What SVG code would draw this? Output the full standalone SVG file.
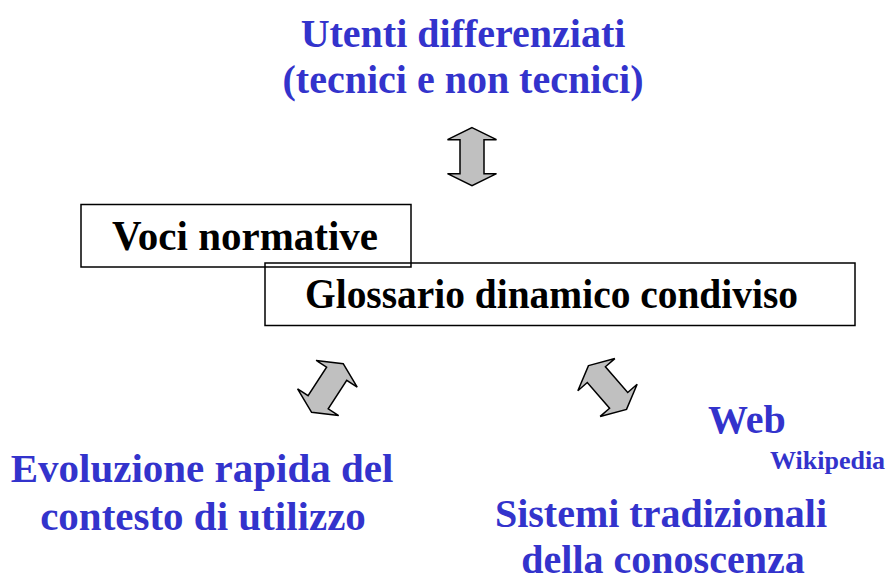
<svg xmlns="http://www.w3.org/2000/svg" width="891" height="581" viewBox="0 0 891 581">
<style>
.t{font-family:"Liberation Serif","Times New Roman",serif;font-weight:bold;font-size:40px}
.blue{fill:#3333CC}
.blk{fill:#000;font-size:42px}
.box{fill:none;stroke:#000;stroke-width:1.5}
.arr{fill:#C0C0C0;stroke:#000;stroke-width:1.5;stroke-linejoin:miter}
</style>
<defs>
<polygon id="dblarrow" points="0,-29 24.5,-17 12,-17 12,17 24.5,17 0,29 -24.5,17 -12,17 -12,-17 -24.5,-17"/>
</defs>
<rect width="891" height="581" fill="#fff"/>
<g id="connectors">
<use href="#dblarrow" class="arr" transform="translate(472,156.7)"/>
<use href="#dblarrow" class="arr" transform="translate(327.4,388) rotate(33)"/>
<use href="#dblarrow" class="arr" transform="translate(607.5,387.5) rotate(-41)"/>
</g>
<g id="utenti">
<text class="t blue" x="463" y="47" text-anchor="middle">Utenti differenziati</text>
<text class="t blue" x="463" y="93" text-anchor="middle">(tecnici e non tecnici)</text>
</g>
<g id="voci">
<rect class="box" x="81" y="204.5" width="330" height="62.5"/>
<text class="t blk" x="112" y="250" textLength="266" lengthAdjust="spacingAndGlyphs">Voci normative</text>
</g>
<g id="glossario">
<rect class="box" x="265" y="263" width="590" height="62.5"/>
<text class="t blk" x="305" y="308" textLength="493" lengthAdjust="spacingAndGlyphs">Glossario dinamico condiviso</text>
</g>
<g id="evoluzione">
<text class="t blue" x="202" y="482" text-anchor="middle" style="font-size:41px">Evoluzione rapida del</text>
<text class="t blue" x="203" y="530" text-anchor="middle" style="font-size:41px">contesto di utilizzo</text>
</g>
<g id="web">
<text class="t blue" x="708" y="433">Web</text>
<text class="t blue" x="770" y="469" style="font-size:26px">Wikipedia</text>
</g>
<g id="sistemi">
<text class="t blue" x="661" y="527" text-anchor="middle">Sistemi tradizionali</text>
<text class="t blue" x="663" y="573" text-anchor="middle">della conoscenza</text>
</g>
</svg>
